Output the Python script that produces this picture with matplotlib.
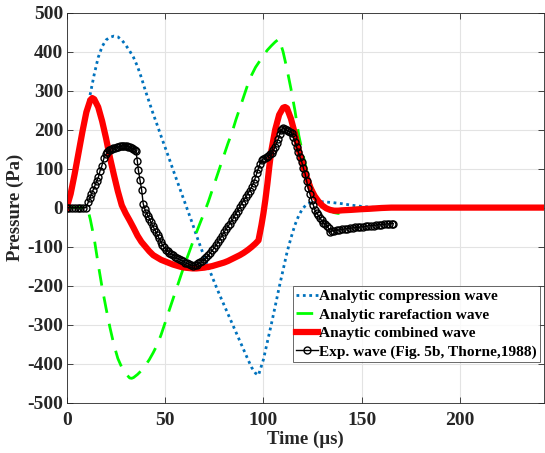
import matplotlib
matplotlib.use("Agg")
import matplotlib.pyplot as plt

# ---- data ----
t_comp = [0, 2, 4, 6, 8, 10, 12, 14, 16, 18, 20, 22, 24, 26, 28, 30, 32, 34, 36, 38,
          40, 42, 44, 46, 48, 50, 52, 54, 56, 58, 60, 62, 64, 66, 68, 70, 72, 74, 76, 78,
          80, 82, 84, 86, 88, 90, 92, 94, 96, 97.5, 100, 102, 104, 106, 108, 110, 112, 114,
          116, 118, 120, 122, 124, 126, 130, 135, 140, 145, 150, 155, 160, 242]
p_comp = [0, 45, 90, 135, 200, 250, 292, 342, 385, 413, 430, 437, 440, 438, 430, 417, 402, 385, 362, 333,
          300, 270, 240, 212, 183, 155, 127, 98, 70, 42, 14, -14, -42, -72, -100, -127, -153, -178, -203, -227,
          -250, -273, -296, -319, -342, -365, -388, -410, -425, -430, -390, -345, -300, -253, -205, -160, -115, -78,
          -45, -20, -2, 8, 13, 15, 15, 13, 10, 6, 3, 1, 0, 0]

t_rare = [0, 10.5, 12, 14, 16, 18, 20, 22, 24, 26, 28, 30, 32, 33, 34, 36, 38, 40, 42, 44,
          46, 48, 50, 52, 54, 56, 58, 60, 62, 64, 66, 68, 70, 72, 74, 76, 78, 80, 82, 84,
          86, 88, 90, 92, 94, 96, 98, 100, 102, 104, 106, 108, 110, 112, 114, 116, 118, 120,
          122, 124, 126, 128, 130, 132, 134, 136, 138, 140, 142, 144, 146, 150, 242]
p_rare = [0, 0, -30, -80, -145, -205, -258, -308, -352, -387, -410, -426, -437, -438, -436, -428, -418, -405, -390, -372,
          -352, -326, -296, -265, -235, -205, -175, -145, -118, -90, -63, -37, -12, 15, 45, 75, 105, 135, 165, 192,
          225, 255, 285, 315, 340, 360, 375, 390, 404, 415, 425, 433, 400, 355, 305, 250, 185, 138,
          95, 60, 35, 20, 8, 0, -8, -13, -15, -14, -10, -5, -2, 0, 0]

t_comb = [0, 2, 4, 6, 8, 10, 12, 13, 14, 16, 18, 20, 22, 24, 26, 28, 30, 32, 34, 36,
          38, 40, 42, 44, 46, 48, 50, 52, 54, 56, 58, 60, 62, 64, 66, 68, 70, 72, 74, 76,
          78, 80, 82, 84, 86, 88, 90, 92, 94, 96, 97.5, 99, 100, 101, 102, 103, 104, 106, 108,
          110, 111, 112, 114, 116, 118, 120, 122, 124, 126, 128, 130, 132, 134, 136, 138, 140,
          144, 150, 154, 160, 165, 242]
p_comb = [0, 35, 85, 140, 195, 245, 276, 281, 278, 258, 222, 178, 128, 84, 42, 6, -15, -33, -52, -72,
          -88, -100, -112, -122, -128, -134, -138, -142, -146, -149, -152, -154, -155, -156, -156, -155, -154, -152, -150, -147,
          -144, -141, -137, -132, -127, -122, -116, -109, -101, -92, -84, -45, -15, 20, 60, 105, 145, 200, 238,
          256, 258, 255, 228, 190, 147, 110, 78, 50, 30, 16, 5, -2, -6, -8, -8, -7,
          -6, -4, -3, -1, 0, 0]

t_exp = [0, 1.4, 2.8, 4.2, 5.6, 7, 8.4, 9.8, 11, 11.8, 12.6, 13.5, 14.4, 15.3, 16.1, 17, 17.8, 19, 20,
         20.7, 21.4, 22, 22.9, 23.7, 24.6, 25.4, 26.3, 27.1, 28, 28.8, 29.7, 30.5, 31.3, 32.2, 33, 33.9,
         34.6, 35.2, 35.9, 36.4, 37.3, 38.1, 38.9, 39.6, 40.5, 41.3, 42, 42.9, 43.7, 44.6, 45.4, 46.2,
         47, 47.8, 48.6, 49.5, 50.4, 51.3, 52.2, 53.1, 54, 55, 56, 57, 58, 59, 60, 61, 62, 63, 64, 65,
         66, 67, 68, 69, 70, 71, 72, 73, 74, 75, 76, 77, 78, 79, 80, 81, 82, 83, 84, 85, 86, 87, 88, 89,
         90, 91, 92, 93, 94, 95, 95.7, 96.6, 97.4, 98.2, 99.1, 100, 100.9, 101.7, 102.5, 103.4, 104.2,
         105, 105.9, 106.7, 107.6, 108.2, 108.8, 109.5, 110.1, 111, 111.8, 112.6, 113.5, 114.4, 115.2,
         116.1, 116.9, 117.7, 118.6, 119.5, 120.3, 121.2, 122, 122.8, 123.7, 124.6, 125.4, 126.2, 127,
         127.9, 128.7, 129.6, 130.5, 131.3, 132.2, 133.1, 134, 135, 136, 137.3, 138.6, 140, 141.3, 142.6,
         144, 145.3, 146.6, 148, 149.3, 150.6, 152, 153.3, 154.6, 156, 157.3, 158.6, 160, 161.3, 162.6,
         164, 165.3, 166]
p_exp = [0, 0, 0, 0, 0, 0, 0, 0, 14, 24, 36, 46, 57, 68, 78, 95, 106, 128, 137,
         143, 147, 149, 151, 153, 154, 155, 156, 157, 158, 158, 158, 157, 156, 155, 153, 151,
         148, 145, 120, 97, 70, 45, 10, -3, -13, -22, -28, -38, -47, -55, -63, -71,
         -79, -87, -95, -102, -108, -112, -116, -119, -122, -126, -129, -132, -135, -138, -141, -143, -145, -147, -149, -148,
         -146, -143, -140, -136, -132, -127, -122, -116, -110, -103, -96, -88, -80, -72, -63, -55, -48, -41, -33, -25, -16, -8, 2, 10,
         18, 26, 35, 43, 53, 64, 74, 88, 100, 112, 121, 125, 128, 130, 133, 137, 140,
         147, 155, 165, 177, 188, 198, 201, 203, 201, 198, 197, 195, 192, 180,
         168, 155, 143, 130, 117, 102, 87, 68, 49, 34, 19, 6, -7, -14,
         -20, -27, -33, -39, -43, -47, -53, -62, -60, -59, -58, -57, -56, -55, -54,
         -53, -52, -51, -51, -50, -49, -48, -47, -46, -46, -45, -44, -44, -43, -42,
         -42, -41, -41]

labels = ["Analytic compression wave", "Analytic rarefaction wave",
          "Anaytic combined wave", "Exp. wave (Fig. 5b, Thorne,1988)"]
xticks = [0, 50, 100, 150, 200]
yticks = list(range(-500, 501, 100))

plt.rcParams['font.family'] = ['Liberation Serif', 'DejaVu Serif']
plt.rcParams['font.weight'] = 'bold'
plt.rcParams['axes.unicode_minus'] = False

fig = plt.figure(figsize=(5.45, 4.53), dpi=100)
ax = fig.add_axes([66.7/545, 1-402.5/453, (543.5-66.7)/545, (402.5-12.7)/453])

ax.plot(t_comp, p_comp, linestyle=(0, (1, 1.3)), color='#0072BD', lw=2.0, label=labels[0])
ax.plot(t_rare, p_rare, linestyle=(0, (6, 4)), color='#00FF00', lw=2.0, label=labels[1])
ax.plot(t_comb, p_comb, '-', color='#FF0000', lw=4.5, label=labels[2], solid_joinstyle='round')
ax.plot(t_exp, p_exp, '-', color='black', lw=1.0, marker='o', ms=5, mfc='none',
        mec='black', mew=1.0, label=labels[3])

ax.set_xlim(0, 242.4)
ax.set_ylim(-500, 500)
ax.set_xticks(xticks)
ax.set_yticks(yticks)
ax.grid(True, color='#e3e3e3', lw=0.8)
ax.set_axisbelow(True)
ax.tick_params(direction='in', top=True, right=True, length=4, width=0.6,
               colors='#262626', labelsize=14)
ax.tick_params(axis='y', pad=2.5)
ax.tick_params(axis='x', pad=7)
for lab in ax.get_xticklabels() + ax.get_yticklabels():
    lab.set_fontweight('bold')
for s in ax.spines.values():
    s.set_color('#262626')
    s.set_linewidth(0.6)

ax.set_xlabel('Time (µs)', fontsize=13.5, fontweight='bold', color='#262626', labelpad=1)
ax.set_ylabel('Pressure (Pa)', fontsize=13.5, fontweight='bold', color='#262626')
ax.yaxis.set_label_coords(-0.09, 0.5)

leg = ax.legend(loc='lower right', bbox_to_anchor=(0.9927, 0.1046),
                prop={'weight': 'bold', 'size': 11.1}, frameon=True, fancybox=False,
                edgecolor='#262626', handlelength=1.4, handletextpad=0.1,
                borderpad=0.2, labelspacing=0.3, borderaxespad=0.0)
leg.get_frame().set_linewidth(0.6)

fig.savefig('out.png', dpi=100)
